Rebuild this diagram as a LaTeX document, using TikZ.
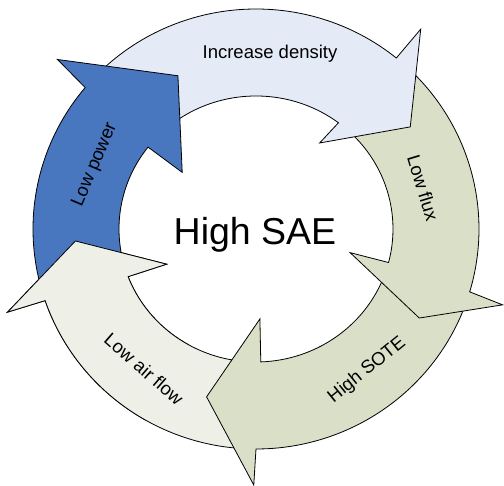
\documentclass[tikz,border=0pt]{standalone}
\usepackage{fontspec}
\setmainfont{Liberation Sans}
\usepackage{tikz}
\usepackage{xcolor}

\definecolor{powerblue}{RGB}{72,118,191}
\definecolor{densityblue}{RGB}{228,234,246}
\definecolor{fluxgreen}{RGB}{218,223,200}
\definecolor{airgray}{RGB}{238,239,230}

% tail angle, base angle, tip angle, tip radius, outer wing, inner wing
\newcommand{\cyclepath}[6]{(#1:223 and 220)
  arc[start angle=#1, end angle={#2-1}, x radius=223, y radius=220]
  -- ({#2-1.5}:#5) -- (#3:#4) -- ({#2+1.5}:#6) -- ({#2+1}:137 and 133)
  arc[start angle={#2+1}, end angle=#1, x radius=137, y radius=133] -- cycle}

\tikzset{
  cyclearrow/.style={draw=black,line width=0.8pt,line join=miter},
  cyclelabel/.style={font=\fontsize{18.5}{22}\selectfont,inner sep=0pt}
}

\begin{document}
\begin{tikzpicture}[x=1pt,y=1pt]
\useasboundingbox (-256,-257) rectangle (248,229);
\foreach \t/\b/\p/\rt/\wo/\wi/\c in {-93/-160/-176.2/181/262/96/airgray,
    -18/-89/-106.4/175/256/90/fluxgreen, 47/-15.6/-28.6/186/258/97/fluxgreen,
    136/52/33.5/185/259/107/densityblue, 195/141/117/172/261/93/powerblue}{
  \filldraw[cyclearrow,fill=\c] \cyclepath{\t}{\b}{\p}{\rt}{\wo}{\wi};
}
% air flow head back on top of the blue tail
\begin{scope}
  \clip (0,0) -- (170:300) arc[start angle=170, end angle=240, radius=300] -- cycle;
  \filldraw[cyclearrow,fill=airgray] \cyclepath{-93}{-160}{-176.2}{181}{262}{96};
\end{scope}
\node[cyclelabel,rotate=67] (power) at (-161,64) {Low power};
\node[cyclelabel] (density) at (14,175) {Increase density};
\node[cyclelabel,rotate=-73] (flux) at (167,41) {Low flux};
\node[cyclelabel,rotate=39] (sote) at (111,-141) {High SOTE};
\node[cyclelabel,rotate=-41] (airflow) at (-112,-140) {Low air flow};
\node[font=\fontsize{37.5}{45}\selectfont,anchor=base] (sae) at (-1,-16) {High SAE};
\end{tikzpicture}
\end{document}
